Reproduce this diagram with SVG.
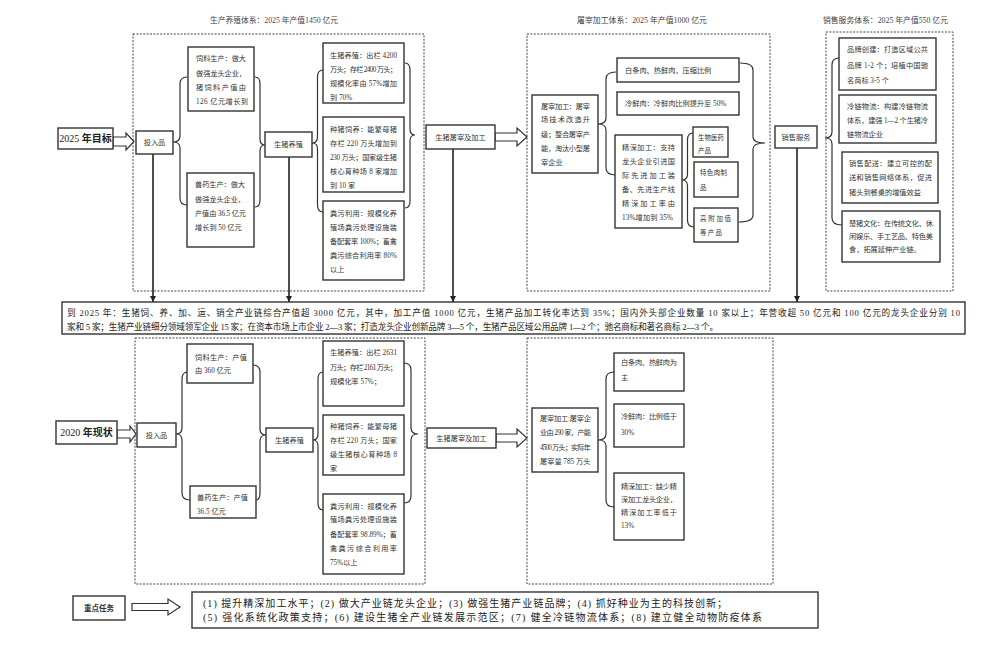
<svg xmlns="http://www.w3.org/2000/svg" width="1000" height="652" viewBox="0 0 1000 652">
<defs>
<style>
.b{fill:#fff;stroke:#333;stroke-width:1.4}
.d{fill:none;stroke:#444;stroke-width:1;stroke-dasharray:2 1.4}
.br{fill:none;stroke:#333;stroke-width:1.2}
.ln{stroke:#222;stroke-width:1.6;fill:none}
.ha{fill:#fff;stroke:#333;stroke-width:1.2}
.t{font-family:"Liberation Serif","Noto Sans CJK SC",serif;font-size:7.2px;fill:#333}
.s{font-size:6.4px}
.h{font-size:8px;fill:#444}
.c{text-anchor:middle}
.big{font-size:10px;fill:#222}
.bd{font-weight:bold}
.band{font-size:8.6px;fill:#222}
.task{font-size:10px;fill:#222}
</style>
<marker id="ah" viewBox="0 0 6 6" refX="6" refY="3" markerWidth="6" markerHeight="6" markerUnits="userSpaceOnUse" orient="auto"><path d="M0,0 L6,3 L0,6 z" fill="#222"/></marker>
</defs>
<rect width="1000" height="652" fill="#fff"/>

<g id="headers">
<text class="t h" x="210" y="23" textLength="128" lengthAdjust="spacingAndGlyphs">生产养殖体系：2025 年产值1450 亿元</text>
<text class="t h" x="577" y="23" textLength="130" lengthAdjust="spacingAndGlyphs">屠宰加工体系：2025 年产值1000 亿元</text>
<text class="t h" x="823" y="23" textLength="125" lengthAdjust="spacingAndGlyphs">销售服务体系：2025 年产值550 亿元</text>
</g>

<g id="groups">
<rect class="d" x="133" y="34" width="291" height="257"/>
<rect class="d" x="527" y="34" width="243" height="257"/>
<rect class="d" x="826" y="32" width="127" height="259"/>
<rect class="d" x="135" y="338" width="290" height="246"/>
<rect class="d" x="527" y="338" width="246" height="246"/>
</g>

<g id="connectors">
<path class="br" d="M187,77 Q180,77 180,84 L180,136 Q180,142 173,142 Q180,142 180,148 L180,198 Q180,205 187,205"/>
<path class="br" d="M255,77 Q260,77 260,84 L260,139 Q260,145 265,145 Q260,145 260,151 L260,200 Q260,207 255,207"/>
<path class="br" d="M323,70 Q317.5,70 317.5,77 L317.5,137 Q317.5,143 312,143 Q317.5,143 317.5,149 L317.5,205 Q317.5,212 323,212"/>
<path class="br" d="M405,63 Q410,63 410,70 L410,129 Q410,135 415,135 Q410,135 410,141 L410,201 Q410,208 405,208"/>
<path class="br" d="M616,72 Q606,72 606,79 L606,118 Q606,124 598,124 Q606,124 606,130 L606,168 Q606,175 616,175"/>
<path class="br" d="M682,180 Q687.5,180 687.5,174 L687.5,140 Q687.5,133 693,133 M682,180 Q687.5,180 687.5,186 L687.5,220 Q687.5,227 694,227"/>
<path class="br" d="M740,63 Q753,63 753,70 L753,137 Q753,143 765,143 Q753,143 753,149 L753,215 Q753,222 739,222"/>
<path class="br" d="M839,58 Q832,58 832,65 L832,132 Q832,138 825,138 Q832,138 832,144 L832,218 Q832,225 842,225"/>
<path class="br" d="M188,372 Q182,372 182,379 L182,428 Q182,434 176,434 Q182,434 182,440 L182,493 Q182,500 190,500"/>
<path class="br" d="M253,365 Q260,365 260,372 L260,429 Q260,435 266,435 Q260,435 260,441 L260,493 Q260,500 256,500"/>
<path class="br" d="M323,372 Q318,372 318,379 L318,434 Q318,440 313,440 Q318,440 318,446 L318,503 Q318,510 323,510"/>
<path class="br" d="M404,363 Q411,363 411,370 L411,428 Q411,434 418,434 Q411,434 411,440 L411,496 Q411,503 404,503"/>
<path class="br" d="M614,372 Q606,372 606,379 L606,434 Q606,440 598,440 Q606,440 606,446 L606,500 Q606,507 614,507"/>
<line class="ln" x1="153" y1="154" x2="153" y2="302" marker-end="url(#ah)"/>
<line class="ln" x1="289" y1="157" x2="289" y2="302" marker-end="url(#ah)"/>
<line class="ln" x1="453" y1="149" x2="453" y2="302" marker-end="url(#ah)"/>
<line class="ln" x1="797" y1="148" x2="797" y2="302" marker-end="url(#ah)"/>
<polygon class="ha" points="113,137 126,137 126,133 134,141.5 126,150 126,146 113,146"/>
<polygon class="ha" points="495,133 517,133 517,128 527,137 517,146 517,141 495,141"/>
<polygon class="ha" points="117,430 130,430 130,426 136,434 130,442 130,438 117,438"/>
<polygon class="ha" points="496,434 517,434 517,429 527,438 517,447 517,442 496,442"/>
<polygon class="ha" points="132,603.5 168,603.5 168,599 180,607 168,615 168,610.5 132,610.5"/>
</g>

<g id="goal2025">
<rect class="b" x="58" y="128" width="55" height="21"/>
<text class="t big c" x="85.5" y="142">2025 <tspan class="bd">年目标</tspan></text>
</g>
<g id="input2025">
<rect class="b" x="136" y="131" width="37" height="23"/>
<text class="t c" x="154.5" y="145">投入品</text>
</g>
<g id="feed2025">
<rect class="b" x="188" y="47" width="66" height="64"/>
<text class="t" x="196" y="60.5" textLength="50" lengthAdjust="spacing">饲料生产：做大</text>
<text class="t" x="196" y="75.5" textLength="50" lengthAdjust="spacing">做强龙头企业，</text>
<text class="t" x="196" y="89.5" textLength="50" lengthAdjust="spacing">猪饲料产值由</text>
<text class="t" x="196" y="103.5" textLength="52" lengthAdjust="spacing">126 亿元增长到</text>
</g>
<g id="vet2025">
<rect class="b" x="187" y="173" width="67" height="74"/>
<text class="t" x="195" y="186.5" textLength="50" lengthAdjust="spacing">兽药生产：做大</text>
<text class="t" x="195" y="201.5" textLength="50" lengthAdjust="spacing">做强龙头企业，</text>
<text class="t" x="195" y="215.5" textLength="51" lengthAdjust="spacing">产值由 36.5 亿元</text>
<text class="t" x="195" y="229.5">增长到 50 亿元</text>
</g>
<g id="breed2025">
<rect class="b" x="265" y="132" width="47" height="25"/>
<text class="t c" x="288.5" y="147">生猪养殖</text>
</g>
<g id="pig2025">
<rect class="b" x="323" y="43" width="81" height="60"/>
<text class="t" x="330" y="57.5" textLength="67" lengthAdjust="spacing">生猪养殖：出栏 4200</text>
<text class="t" x="330" y="71.5" textLength="67" lengthAdjust="spacing">万头；存栏 2400 万头；</text>
<text class="t" x="330" y="85.5" textLength="67" lengthAdjust="spacing">规模化率由 57%增加</text>
<text class="t" x="330" y="99.5">到 70%</text>
</g>
<g id="sow2025">
<rect class="b" x="323" y="117" width="81" height="75"/>
<text class="t" x="330" y="131.5" textLength="67" lengthAdjust="spacing">种猪饲养：能繁母猪</text>
<text class="t" x="330" y="145.5" textLength="67" lengthAdjust="spacing">存栏 220 万头增加到</text>
<text class="t" x="330" y="159.5" textLength="67" lengthAdjust="spacing">230 万头；国家级生猪</text>
<text class="t" x="330" y="173.5" textLength="67" lengthAdjust="spacing">核心育种场 8 家增加</text>
<text class="t" x="330" y="187.5">到 10 家</text>
</g>
<g id="manure2025">
<rect class="b" x="323" y="201" width="81" height="79"/>
<text class="t" x="330" y="215.5" textLength="67" lengthAdjust="spacing">粪污利用：规模化养</text>
<text class="t" x="330" y="229.5" textLength="67" lengthAdjust="spacing">殖场粪污处理设施装</text>
<text class="t" x="330" y="243.5" textLength="67" lengthAdjust="spacing">备配套率 100%；畜禽</text>
<text class="t" x="330" y="257.5" textLength="67" lengthAdjust="spacing">粪污综合利用率 80%</text>
<text class="t" x="330" y="271.5">以上</text>
</g>
<g id="slaughter2025">
<rect class="b" x="426" y="125" width="69" height="24"/>
<text class="t c" x="460.5" y="139.5">生猪屠宰及加工</text>
</g>
<g id="proc2025">
<rect class="b" x="532" y="95" width="66" height="78"/>
<text class="t" x="541" y="108.5" textLength="49" lengthAdjust="spacing">屠宰加工：屠宰</text>
<text class="t" x="541" y="121.5" textLength="49" lengthAdjust="spacing">场技术改造升</text>
<text class="t" x="541" y="136.5" textLength="49" lengthAdjust="spacing">级；整合屠宰产</text>
<text class="t" x="541" y="150.5" textLength="49" lengthAdjust="spacing">能，淘汰小型屠</text>
<text class="t" x="541" y="164.5">宰企业</text>
</g>
<g id="white2025">
<rect class="b" x="617" y="58" width="122" height="24"/>
<text class="t" x="625" y="72.5">白条肉、热鲜肉，压缩比例</text>
</g>
<g id="chilled2025">
<rect class="b" x="617" y="92" width="122" height="23"/>
<text class="t" x="625" y="106">冷鲜肉：冷鲜肉比例提升至 50%</text>
</g>
<g id="deep2025">
<rect class="b" x="615" y="135" width="67" height="93"/>
<text class="t" x="622" y="149.5" textLength="53" lengthAdjust="spacing">精深加工：支持</text>
<text class="t" x="622" y="163.5" textLength="53" lengthAdjust="spacing">龙头企业引进国</text>
<text class="t" x="622" y="177.5" textLength="53" lengthAdjust="spacing">际先进加工装</text>
<text class="t" x="622" y="191.5" textLength="53" lengthAdjust="spacing">备、先进生产线</text>
<text class="t" x="622" y="205.5" textLength="53" lengthAdjust="spacing">精深加工率由</text>
<text class="t" x="622" y="219.5" textLength="51" lengthAdjust="spacing">13%增加到 35%</text>
</g>
<g id="bio2025">
<rect class="b" x="693" y="127" width="35" height="30"/>
<text class="t s" x="698" y="139.5" textLength="26" lengthAdjust="spacing">生物医药</text>
<text class="t s" x="698" y="152.5">产品</text>
</g>
<g id="special2025">
<rect class="b" x="694" y="162" width="44" height="35"/>
<text class="t s" x="700" y="174.5" textLength="27" lengthAdjust="spacing">特色肉制</text>
<text class="t s" x="700" y="189.5">品</text>
</g>
<g id="value2025">
<rect class="b" x="694" y="208" width="44" height="34"/>
<text class="t s" x="700" y="220.5" textLength="31" lengthAdjust="spacing">高附加值</text>
<text class="t s" x="700" y="234.5" textLength="22" lengthAdjust="spacing">等产品</text>
</g>
<g id="sales2025">
<rect class="b" x="775" y="126" width="42" height="22"/>
<text class="t c" x="796" y="139.5">销售服务</text>
</g>
<g id="brand2025">
<rect class="b" x="839" y="38" width="97" height="52"/>
<text class="t" x="847" y="51.5" textLength="81" lengthAdjust="spacing">品牌创建：打造区域公共</text>
<text class="t" x="847" y="67.5" textLength="81" lengthAdjust="spacing">品牌 1-2 个；培植中国驰</text>
<text class="t" x="847" y="82.5">名商标 3-5 个</text>
</g>
<g id="cold2025">
<rect class="b" x="839" y="95" width="97" height="48"/>
<text class="t" x="847" y="108.5" textLength="81" lengthAdjust="spacing">冷链物流：构建冷链物流</text>
<text class="t" x="847" y="122.5" textLength="81" lengthAdjust="spacing">体系，建强 1—2 个生猪冷</text>
<text class="t" x="847" y="136.5">链物流企业</text>
</g>
<g id="delivery2025">
<rect class="b" x="842" y="152" width="96" height="51"/>
<text class="t" x="849" y="165.5" textLength="83" lengthAdjust="spacing">销售配送：建立可控的配</text>
<text class="t" x="849" y="179.5" textLength="83" lengthAdjust="spacing">送和销售网络体系，促进</text>
<text class="t" x="849" y="194.5">猪头到餐桌的增值效益</text>
</g>
<g id="culture2025">
<rect class="b" x="842" y="211" width="98" height="51"/>
<text class="t" x="849" y="225.5" textLength="84" lengthAdjust="spacing">楚猪文化：在传统文化、休</text>
<text class="t" x="849" y="238.5" textLength="84" lengthAdjust="spacing">闲娱乐、手工艺品、特色美</text>
<text class="t" x="849" y="251.5">食，拓展延伸产业链。</text>
</g>

<g id="summary">
<rect class="b" x="62" y="302" width="903" height="32"/>
<text class="t band" x="67" y="316" textLength="893" lengthAdjust="spacing">到 2025 年：生猪饲、养、加、运、销全产业链综合产值超 3000 亿元，其中，加工产值 1000 亿元，生猪产品加工转化率达到 35%；国内外头部企业数量 10 家以上；年营收超 50 亿元和 100 亿元的龙头企业分别 10</text>
<text class="t band" x="67" y="330" textLength="651" lengthAdjust="spacing">家和 5 家；生猪产业链细分领域领军企业 15 家；在资本市场上市企业 2—3 家；打造龙头企业创新品牌 3—5 个，生猪产品区域公用品牌 1—2 个；驰名商标和著名商标 2—3 个。</text>
</g>

<g id="status2020">
<rect class="b" x="56" y="421" width="61" height="23"/>
<text class="t big c" x="86.5" y="436">2020 <tspan class="bd">年现状</tspan></text>
</g>
<g id="input2020">
<rect class="b" x="137" y="423" width="39" height="24"/>
<text class="t c" x="156.5" y="437.5">投入品</text>
</g>
<g id="feed2020">
<rect class="b" x="187" y="344" width="66" height="39"/>
<text class="t" x="195" y="359.5" textLength="52" lengthAdjust="spacing">饲料生产：产值</text>
<text class="t" x="195" y="372.5">由 360 亿元</text>
</g>
<g id="vet2020">
<rect class="b" x="190" y="486" width="66" height="32"/>
<text class="t" x="197" y="499.5" textLength="51" lengthAdjust="spacing">兽药生产：产值</text>
<text class="t" x="197" y="513.5">36.5 亿元</text>
</g>
<g id="breed2020">
<rect class="b" x="266" y="428" width="47" height="24"/>
<text class="t c" x="289.5" y="442.5">生猪养殖</text>
</g>
<g id="pig2020">
<rect class="b" x="323" y="341" width="81" height="65"/>
<text class="t" x="330" y="354.5" textLength="67" lengthAdjust="spacing">生猪养殖：出栏 2631</text>
<text class="t" x="330" y="369.5" textLength="67" lengthAdjust="spacing">万头；存栏 2161 万头；</text>
<text class="t" x="330" y="383.5">规模化率 57%；</text>
</g>
<g id="sow2020">
<rect class="b" x="323" y="415" width="81" height="60"/>
<text class="t" x="330" y="428.5" textLength="67" lengthAdjust="spacing">种猪饲养：能繁母猪</text>
<text class="t" x="330" y="442.5" textLength="67" lengthAdjust="spacing">存栏 220 万头；国家</text>
<text class="t" x="330" y="456.5" textLength="67" lengthAdjust="spacing">级生猪核心育种场 8</text>
<text class="t" x="330" y="470.5">家</text>
</g>
<g id="manure2020">
<rect class="b" x="323" y="494" width="81" height="80"/>
<text class="t" x="330" y="508.5" textLength="67" lengthAdjust="spacing">粪污利用：规模化养</text>
<text class="t" x="330" y="521.5" textLength="67" lengthAdjust="spacing">殖场粪污处理设施装</text>
<text class="t" x="330" y="536.5" textLength="67" lengthAdjust="spacing">备配套率 98.89%；畜</text>
<text class="t" x="330" y="550.5" textLength="67" lengthAdjust="spacing">禽粪污综合利用率</text>
<text class="t" x="330" y="564.5">75%以上</text>
</g>
<g id="slaughter2020">
<rect class="b" x="427" y="428" width="69" height="20"/>
<text class="t c" x="461.5" y="440.5">生猪屠宰及加工</text>
</g>
<g id="proc2020">
<rect class="b" x="532" y="408" width="66" height="64"/>
<text class="t" x="540" y="420.5" textLength="51" lengthAdjust="spacing">屠宰加工:屠宰企</text>
<text class="t" x="540" y="434.5" textLength="51" lengthAdjust="spacing">业由 290 家，产能</text>
<text class="t" x="540" y="449.5" textLength="51" lengthAdjust="spacing">4500 万头；实际年</text>
<text class="t" x="540" y="463.5">屠宰量 785 万头</text>
</g>
<g id="white2020">
<rect class="b" x="614" y="353" width="70" height="38"/>
<text class="t" x="621" y="364.5" textLength="56" lengthAdjust="spacing">白条肉、热鲜肉为</text>
<text class="t" x="621" y="379.5">主</text>
</g>
<g id="chilled2020">
<rect class="b" x="614" y="404" width="70" height="43"/>
<text class="t" x="621" y="418.5" textLength="56" lengthAdjust="spacing">冷鲜肉：比例低于</text>
<text class="t" x="621" y="434.5">30%</text>
</g>
<g id="deep2020">
<rect class="b" x="614" y="473" width="70" height="67"/>
<text class="t" x="621" y="488.5" textLength="56" lengthAdjust="spacing">精深加工：缺少精</text>
<text class="t" x="621" y="501.5" textLength="56" lengthAdjust="spacing">深加工龙头企业，</text>
<text class="t" x="621" y="514.5" textLength="56" lengthAdjust="spacing">精深加工率低于</text>
<text class="t" x="621" y="527.5">13%</text>
</g>

<g id="keytasks">
<rect class="b" x="73" y="596" width="52" height="24"/>
<text class="t c bd" x="99" y="610.5" style="font-size:7.5px">重点任务</text>
</g>
<g id="tasklist">
<rect class="b" x="192" y="592" width="626" height="36"/>
<text class="t task" x="203" y="606.5" textLength="524" lengthAdjust="spacing">(1) 提升精深加工水平；(2) 做大产业链龙头企业；(3) 做强生猪产业链品牌；(4) 抓好种业为主的科技创新；</text>
<text class="t task" x="203" y="620.5" textLength="559" lengthAdjust="spacing">(5) 强化系统化政策支持；(6) 建设生猪全产业链发展示范区；(7) 健全冷链物流体系；(8) 建立健全动物防疫体系</text>
</g>
</svg>
